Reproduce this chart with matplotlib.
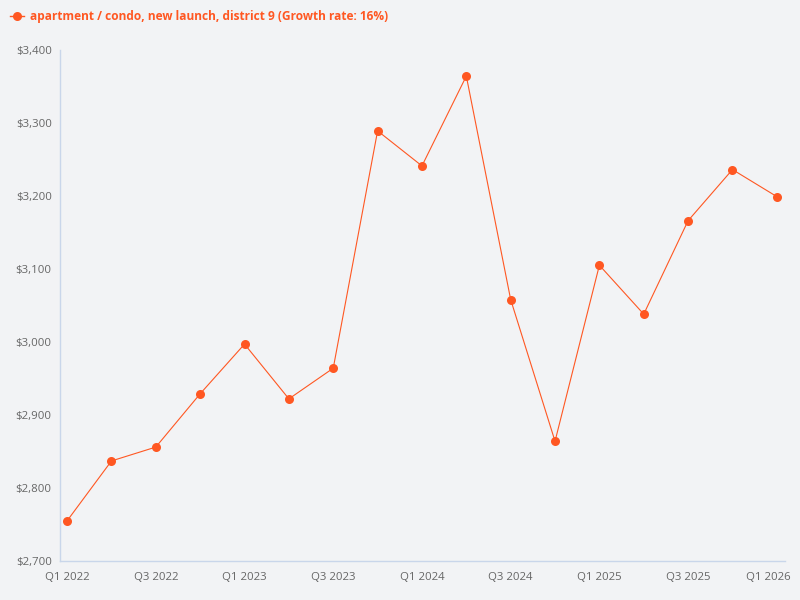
import matplotlib
matplotlib.use("Agg")
import matplotlib.pyplot as plt
import matplotlib.transforms as mtransforms
from matplotlib.ticker import FuncFormatter
from matplotlib.lines import Line2D

quarters = ["Q1 2022", "Q2 2022", "Q3 2022", "Q4 2022",
            "Q1 2023", "Q2 2023", "Q3 2023", "Q4 2023",
            "Q1 2024", "Q2 2024", "Q3 2024", "Q4 2024",
            "Q1 2025", "Q2 2025", "Q3 2025", "Q4 2025",
            "Q1 2026"]
prices = [2755, 2837, 2856, 2929, 2997, 2922, 2964, 3289,
          3241, 3364, 3058, 2864, 3105, 3038, 3166, 3236, 3199]
series_label = "apartment / condo, new launch, district 9 (Growth rate: 16%)"

plt.rcParams['font.family'] = ['Open Sans', 'DejaVu Sans']
bg = "#f2f3f5"
color = "#ff5722"
axis_color = "#c9d6ea"
text_color = "#666666"

fig = plt.figure(figsize=(8, 6), dpi=100, facecolor=bg)
ax = fig.add_axes([0.075, 0.065, 0.906, 0.852], facecolor=bg)

x = list(range(len(quarters)))
ax.plot(x, prices, color=color, linewidth=0.8, marker='o', markersize=6.5,
        markeredgewidth=0, zorder=3)

ax.set_xlim(-0.16, len(quarters) - 1 + 0.18)
ax.set_ylim(2700, 3400)
ax.set_yticks(range(2700, 3401, 100))
ax.yaxis.set_major_formatter(FuncFormatter(lambda v, p: f"${int(v):,}"))
ax.set_xticks(x[::2])
ax.set_xticklabels(quarters[::2])

for s in ["top", "right"]:
    ax.spines[s].set_visible(False)
for s in ["left", "bottom"]:
    ax.spines[s].set_color(axis_color)
    ax.spines[s].set_linewidth(1)
ax.tick_params(axis='both', length=0, labelsize=8.2, colors=text_color)
ax.tick_params(axis='x', pad=8)
ax.tick_params(axis='y', pad=6)

# keep last x label inside the figure, as in the reference
last = ax.get_xticklabels()[-1]
last.set_transform(last.get_transform() +
                   mtransforms.ScaledTranslation(-9 / 100, 0, fig.dpi_scale_trans))

handle = Line2D([], [], color=color, linewidth=1, marker='o', markersize=6.5,
                markeredgewidth=0)
leg = fig.legend([handle], [series_label], loc='upper left',
                 bbox_to_anchor=(0.0, 1.0), frameon=False, handlelength=1.2,
                 handletextpad=0.5, borderaxespad=0.45,
                 prop={'weight': 'bold', 'size': 8.6})
for t in leg.get_texts():
    t.set_color(color)

fig.savefig("out.png", dpi=100, facecolor=bg)
